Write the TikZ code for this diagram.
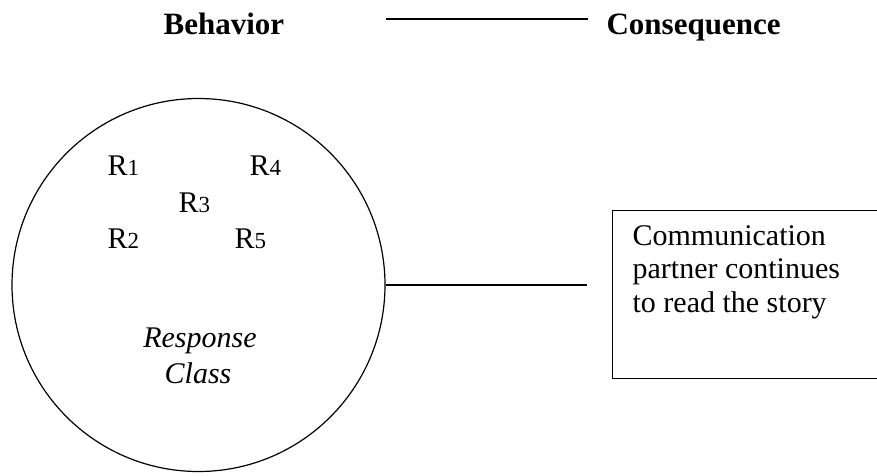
\documentclass[tikz,border=0pt]{standalone}
\usepackage{fontspec}
\setmainfont{Liberation Serif}
\begin{document}
\begin{tikzpicture}[x=1pt,y=-1pt,
  line width=1.2pt,
  lbl/.style={inner sep=0pt,anchor=base west,font=\fontsize{30}{34}\selectfont},
  head/.style={inner sep=0pt,anchor=base west,font=\fontsize{31}{36}\selectfont\bfseries}]
\useasboundingbox (0,0) rectangle (877,475);
\clip (0,0) rectangle (877,475);
% headings
\node[head] (beh) at (163,34) {Behavior};
\node[head] (cons) at (606,34) {Consequence};
\coordinate (topA) at (386,19);
\coordinate (topB) at (588,19);
\draw (topA) -- (topB);
% response class circle
\node[draw,circle,minimum size=373pt,inner sep=0pt] (circ) at (198.5,285) {};
\node[lbl] (r1) at (107,175) {R{\fontsize{23}{26}\selectfont 1}};
\node[lbl] (r4) at (249,175) {R{\fontsize{23}{26}\selectfont 4}};
\node[lbl] (r3) at (178,212) {R{\fontsize{23}{26}\selectfont 3}};
\node[lbl] (r2) at (107,248) {R{\fontsize{23}{26}\selectfont 2}};
\node[lbl] (r5) at (234,248) {R{\fontsize{23}{26}\selectfont 5}};
\node[lbl,anchor=base] (resp) at (200,347) {\itshape Response};
\node[lbl,anchor=base] (cls) at (198,383) {\itshape Class};
% consequence box
\node[draw,rectangle,inner sep=0pt,anchor=north west,minimum width=280pt,minimum height=168pt] (box) at (612,210) {};
\node[lbl,align=left,font=\fontsize{30}{33.5}\selectfont] (boxtext) at (632,312) {Communication\\partner continues\\to read the story};
\coordinate (lineend) at (587,285);
\draw (circ.east) -- (lineend);
\end{tikzpicture}
\end{document}
